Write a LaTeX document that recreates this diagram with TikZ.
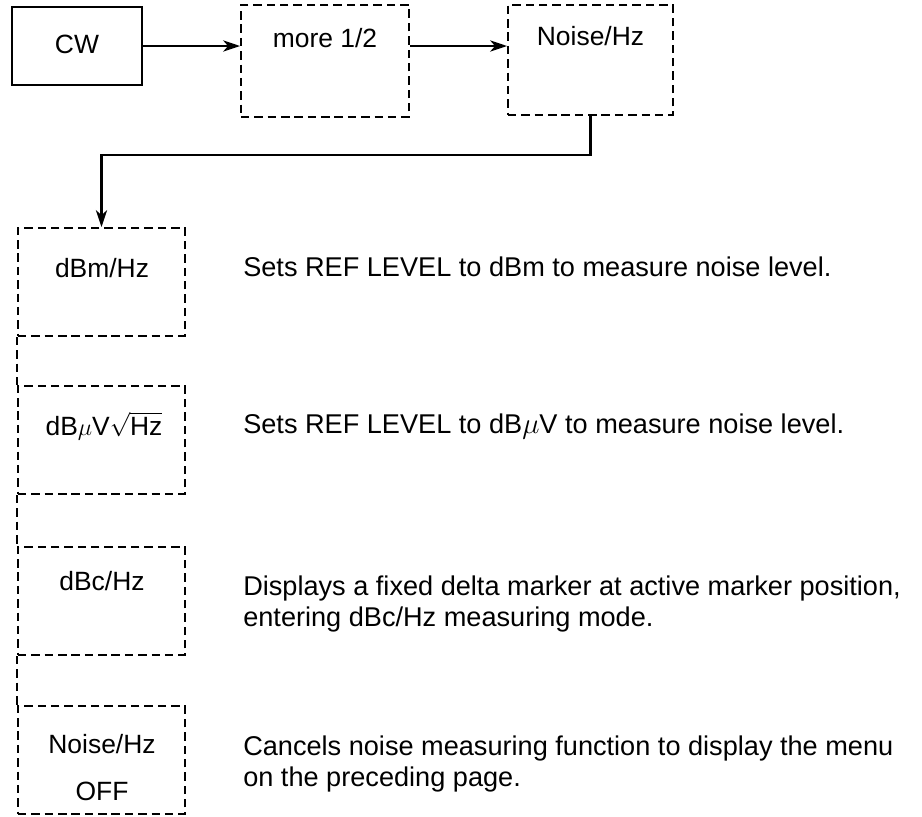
\documentclass[tikz,border=0pt]{standalone}
\usepackage{fontspec}
\setmainfont{Liberation Sans}
\usetikzlibrary{arrows.meta,positioning}

\begin{document}
\begin{tikzpicture}[x=0.25mm, y=-0.25mm,
  every node/.style={font=\fontsize{18.8}{21}\selectfont, inner sep=0pt},
  keybox/.style={draw, line width=1.5pt, minimum width=32.5mm, minimum height=19.5mm},
  softkey/.style={draw, line width=1.4pt, dash pattern=on 6pt off 3.5pt},
  sidekey/.style={softkey, minimum width=41.75mm, minimum height=27mm},
  keytext/.style={anchor=base},
  desc/.style={anchor=base west, align=left, font=\fontsize{19.3}{21.5}\selectfont},
  arr/.style={line width=1.5pt, -{Stealth[length=12pt, width=8pt, inset=3.5pt]}}]
  \useasboundingbox (0,0) rectangle (922,816);

  % Top row
  \node[keybox] (cw) at (77,46) {};
  \node[keytext] (cwtext) at (77,53) {CW};
  \node[softkey, minimum width=42mm, minimum height=28mm] (more) at (325,61) {};
  \node[keytext] (moretext) at (325,47) {more 1/2};
  \node[softkey, minimum width=41.25mm, minimum height=27.5mm] (nhz) at (590.5,60) {};
  \node[keytext] (nhztext) at (590.5,45) {Noise/Hz};

  \draw[arr] (cw.east) -- (cw.east -| more.west);
  \draw[arr] (more.east |- cw.east) -- (nhz.west |- cw.east);

  % Noise menu
  \node[sidekey] (dbm) at (101.5,282) {};
  \node[keytext] (dbmtext) at (102,277) {dBm/Hz};
  \node[sidekey] (dbuv) at (101.5,440) {};
  \node[keytext] (dbuvtext) at (104,435) {dB$\mu$V$\sqrt{\hbox{Hz}}$};
  \node[sidekey] (dbc) at (101.5,601) {};
  \node[keytext] (dbctext) at (102,590) {dBc/Hz};
  \node[sidekey] (noff) at (101.5,760) {};
  \node[keytext] (nofftext) at (102,753) {Noise/Hz};
  \node[keytext] (offtext) at (102,800) {OFF};

  \foreach \a/\b in {dbm/dbuv, dbuv/dbc, dbc/noff}
    \draw[softkey] (\a.south west) -- (\b.north west);

  \coordinate (bend) at (101.5,155);
  \draw[arr] (nhz.south) |- (bend) -- (dbm.north);

  % Descriptions
  \node[desc] (dbmdesc) at (243,276) {Sets REF LEVEL to dBm to measure noise level.};
  \node[desc] (dbuvdesc) at (243,433) {Sets REF LEVEL to dB$\mu$V to measure noise level.};
  \node[desc] (dbcdesc) at (243,626) {Displays a fixed delta marker at active marker position,\\entering dBc/Hz measuring mode.};
  \node[desc] (noffdesc) at (243,786) {Cancels noise measuring function to display the menu\\on the preceding page.};
\end{tikzpicture}
\end{document}
